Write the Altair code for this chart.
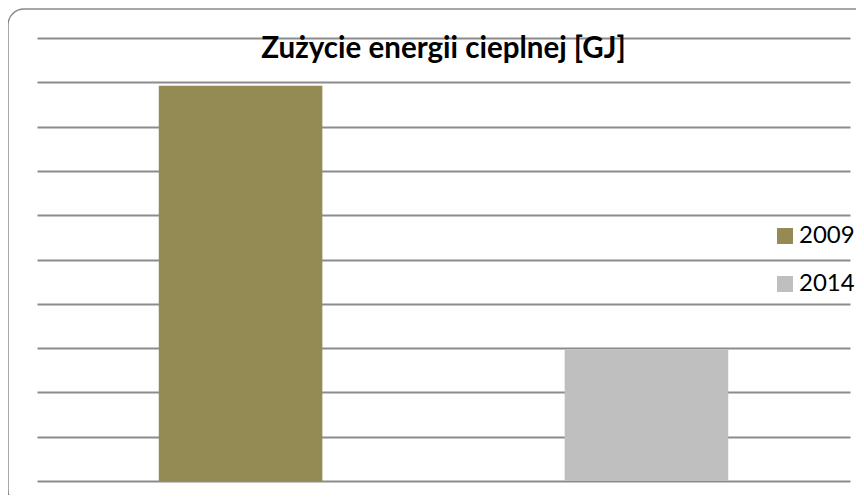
import altair as alt
import pandas as pd

years = ["2009", "2014"]
values = [8.92, 2.96]
colors = ["#948A54", "#BFBFBF"]
grid_values = list(range(0, 11))
title_text = "Zużycie energii cieplnej [GJ]"

df = pd.DataFrame({"rok": years, "wartosc": values})

W, H = 813, 443

frame = alt.Chart(pd.DataFrame({"a": [0]})).mark_rect(
    fillOpacity=0, stroke="#8a8a8a", strokeWidth=1.5, cornerRadius=16
).encode(
    x=alt.value(-29), x2=alt.value(833), y=alt.value(-29), y2=alt.value(468)
)

bars = alt.Chart(df).mark_bar().encode(
    x=alt.X("rok:N", axis=None,
            scale=alt.Scale(paddingInner=0.597, paddingOuter=0.30)),
    y=alt.Y("wartosc:Q",
            scale=alt.Scale(domain=[0, 10], nice=False),
            axis=alt.Axis(values=grid_values, labels=False, ticks=False, domain=False,
                          title=None, grid=True, gridColor="#8c8c8c", gridWidth=1.8)),
    color=alt.Color("rok:N",
                    scale=alt.Scale(domain=years, range=colors),
                    legend=alt.Legend(orient="none", legendX=736, legendY=186, title=None,
                                      symbolType="square", symbolSize=256, symbolStrokeWidth=0,
                                      labelFont="Lato", labelFontSize=24, labelColor="black",
                                      labelOffset=2, rowPadding=24, padding=0)),
)

title = alt.Chart(pd.DataFrame({"t": [title_text]})).mark_text(
    font="Lato", fontSize=29.5, fontWeight="bold", color="black",
    align="center", baseline="alphabetic"
).encode(
    text="t:N", x=alt.value(W / 2), y=alt.value(20)
)

chart = alt.layer(frame, bars, title).properties(
    width=W, height=H,
    autosize=alt.AutoSizeParams(type="none"),
    padding={"left": 29, "top": 30, "right": 6, "bottom": 14},
).configure_view(stroke=None)

chart.save("out.html", embed_options={"renderer": "svg", "actions": False})
